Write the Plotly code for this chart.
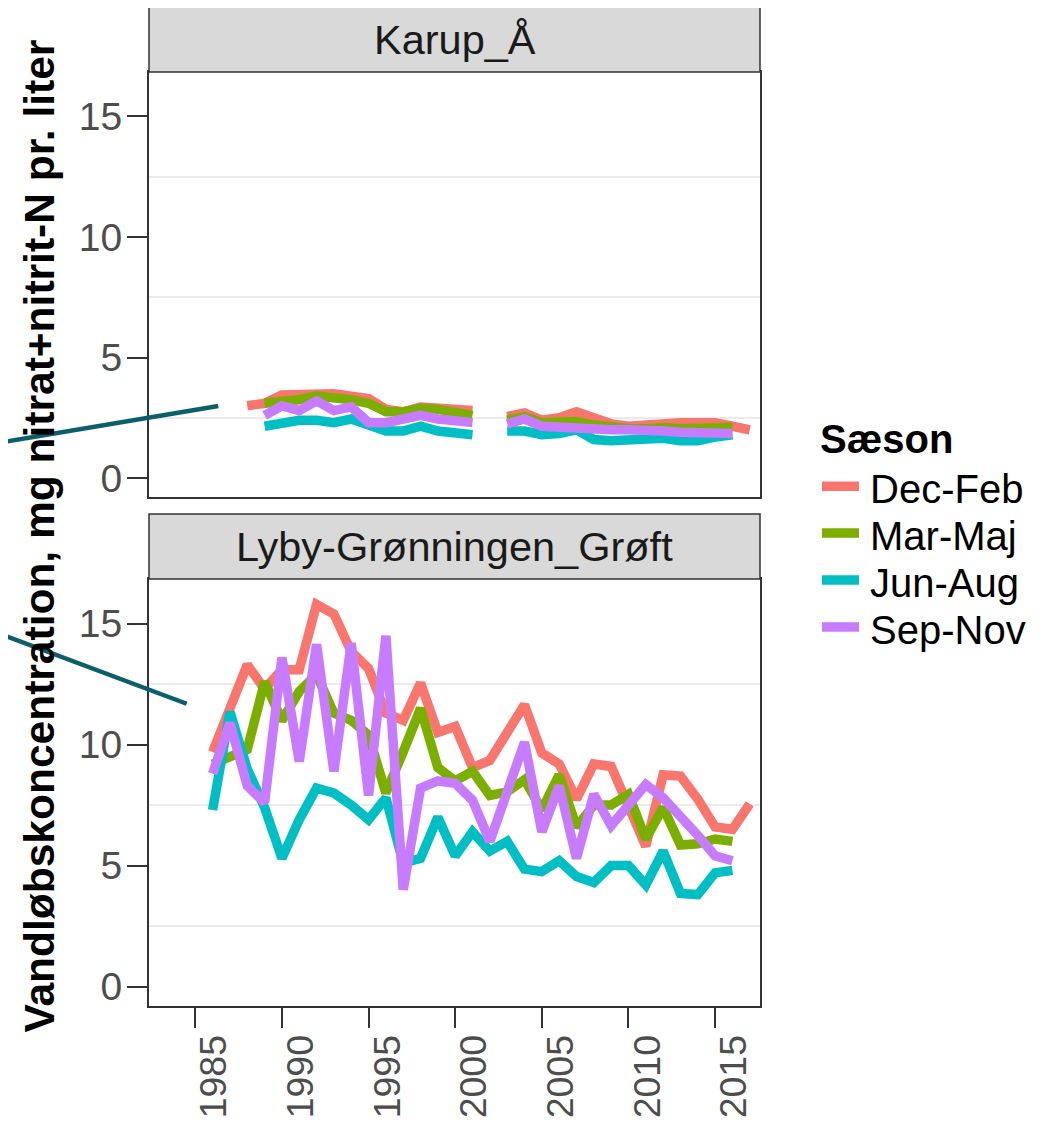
import plotly.graph_objects as go

# ---------------- data ----------------
YEARS = list(range(1986, 2018))  # 1986 .. 2017

SEASONS = ["Dec-Feb", "Mar-Maj", "Jun-Aug", "Sep-Nov"]
SEASON_COLORS = ["#F8766D", "#7CAE00", "#00BFC4", "#C77CFF"]

PANELS = ["Karup_Å", "Lyby-Grønningen_Grøft"]

N = None
# Karup_Å
karup_dec_feb = [N, N, 3.0, 3.1, 3.45, 3.45, 3.5, 3.5, 3.4, 3.3, 2.85, 2.75, 2.95, 2.9, 2.85, 2.8,
                 N, 2.55, 2.7, 2.4, 2.5, 2.75, 2.5, 2.25, 2.15, 2.2, 2.3, 2.3, 2.3, 2.3, 2.15, 2.0]
karup_mar_maj = [N, N, N, 3.1, 3.15, 3.25, 3.4, 3.35, 3.25, 3.1, 2.75, 2.75, 2.9, 2.85, 2.7, 2.6,
                 N, 2.4, 2.55, 2.3, 2.3, 2.35, 2.2, 2.1, 2.05, 2.05, 2.1, 2.05, 2.05, 2.05, 2.1, N]
karup_jun_aug = [N, N, N, 2.15, 2.3, 2.4, 2.4, 2.3, 2.45, 2.25, 1.95, 1.95, 2.15, 1.95, 1.85, 1.8,
                 N, 1.95, 1.95, 1.8, 1.85, 2.0, 1.6, 1.55, 1.6, 1.6, 1.65, 1.55, 1.55, 1.7, 1.8, N]
karup_sep_nov = [N, N, N, 2.6, 3.0, 2.8, 3.2, 2.8, 2.95, 2.3, 2.3, 2.45, 2.6, 2.45, 2.4, 2.3,
                 N, 2.25, 2.45, 2.15, 2.1, 2.1, 2.0, 2.0, 2.0, 2.0, 1.95, 1.9, 1.9, 1.9, 1.85, N]

# Lyby-Grønningen_Grøft
lyby_dec_feb = [9.7, 11.6, 13.3, 12.3, 13.1, 13.1, 15.8, 15.4, 13.85, 13.15, 11.3, 11.0, 12.55, 10.5,
                10.75, 9.05, 9.35, 10.5, 11.65, 9.65, 9.2, 7.75, 9.2, 9.1, 7.4, 5.8, 8.75, 8.7, 7.75,
                6.6, 6.5, 7.55]
lyby_mar_maj = [9.2, 9.5, 9.8, 12.6, 11.0, 12.2, 12.9, 11.3, 11.0, 10.4, 8.0, 9.7, 11.5, 9.05, 8.5,
                8.9, 7.9, 8.05, 8.55, 7.3, 8.75, 6.6, 7.5, 7.5, 7.95, 6.1, 7.4, 5.85, 5.9, 6.1, 6.0, N]
lyby_jun_aug = [7.3, 11.35, 9.0, 7.4, 5.3, 6.9, 8.2, 8.0, 7.5, 6.9, 7.8, 5.1, 5.3, 7.0, 5.4, 6.4,
                5.6, 6.0, 4.85, 4.75, 5.2, 4.55, 4.3, 5.0, 5.0, 4.2, 5.6, 3.85, 3.8, 4.7, 4.8, N]
lyby_sep_nov = [8.8, 10.9, 8.3, 7.6, 13.6, 9.3, 14.15, 8.9, 14.2, 7.9, 14.5, 4.0, 8.2, 8.5, 8.4, 7.7,
                6.0, 8.1, 10.1, 6.4, 8.3, 5.3, 7.95, 6.65, 7.5, 8.35, 7.8, 7.05, 6.25, 5.4, 5.2, N]

PANEL_DATA = [
    [karup_dec_feb, karup_mar_maj, karup_jun_aug, karup_sep_nov],
    [lyby_dec_feb, lyby_mar_maj, lyby_jun_aug, lyby_sep_nov],
]

X_TICKS = [1985, 1990, 1995, 2000, 2005, 2010, 2015]
Y_TICKS = [0, 5, 10, 15]
Y_MINOR = [2.5, 7.5, 12.5]

Y_TITLE = "Vandløbskoncentration, mg nitrat+nitrit-N pr. liter"
LEGEND_TITLE = "Sæson"

# ---------------- layout geometry (pixels, as seen in the page) ----------------
W, H = 1056, 1131
OFF = 8                       # default page body margin
PX_L, PX_R = 149, 760
PANEL_PX = [(72, 498.3), (580, 1007.7)]      # (top, bottom) in px
STRIP_PX = [(7, 72), (515, 580)]
X_RANGE = [1982.33, 2017.59]
Y_RANGE = [-0.803, 16.85]

FONT = "Liberation Sans, Arial, sans-serif"
DARK = "#333333"


def fx(px):
    return (px - OFF) / W


def fy(py):
    return 1 - (py - OFF) / H


fig = go.Figure()

for p, series in enumerate(PANEL_DATA):
    suffix = "" if p == 0 else str(p + 1)
    for s, vals in enumerate(series):
        fig.add_trace(go.Scatter(
            x=YEARS, y=vals, mode="lines", name=SEASONS[s],
            line=dict(color=SEASON_COLORS[s], width=9.5),
            connectgaps=False, showlegend=False,
            xaxis="x" + suffix, yaxis="y" + suffix,
        ))

axis_common = dict(
    showline=True, mirror=True, linecolor=DARK, linewidth=2,
    zeroline=False, showgrid=False,
)

layout = dict(
    width=W, height=H,
    margin=dict(l=0, r=0, t=0, b=0),
    paper_bgcolor="white", plot_bgcolor="white",
    font=dict(family=FONT),
    showlegend=False,
)

for p in range(2):
    suffix = "" if p == 0 else str(p + 1)
    top, bot = PANEL_PX[p]
    xa = dict(axis_common, domain=[fx(PX_L), fx(PX_R)], range=X_RANGE,
              anchor="y" + suffix)
    if p == 1:
        xa.update(tickmode="array", tickvals=X_TICKS, ticktext=[str(t) for t in X_TICKS],
                  ticks="outside", ticklen=20, tickwidth=2, tickcolor=DARK,
                  tickangle=-90, ticklabelshift=19, ticklabelstandoff=-8,
                  tickfont=dict(size=37.5, color="#4D4D4D", family=FONT))
    else:
        xa.update(showticklabels=False, ticks="")
    ya = dict(axis_common, domain=[fy(bot), fy(top)], range=Y_RANGE,
              anchor="x" + suffix,
              tickmode="array", tickvals=Y_TICKS, ticktext=[str(t) for t in Y_TICKS],
              ticks="outside", ticklen=20, tickwidth=2, tickcolor=DARK,
              ticklabelstandoff=-3,
              tickfont=dict(size=39, color="#4D4D4D", family=FONT),
              minor=dict(tickmode="array", tickvals=Y_MINOR, showgrid=True,
                         gridcolor="#EBEBEB", gridwidth=2, ticks=""))
    layout["xaxis" + suffix] = xa
    layout["yaxis" + suffix] = ya

shapes = []
annotations = []

# facet strips
for p, (st, sb) in enumerate(STRIP_PX):
    shapes.append(dict(type="rect", xref="paper", yref="paper",
                       x0=fx(PX_L), x1=fx(PX_R), y0=fy(sb), y1=fy(st),
                       fillcolor="#D9D9D9", line=dict(color=DARK, width=1.5), layer="above"))
    annotations.append(dict(text=PANELS[p], xref="paper", yref="paper",
                            x=fx((PX_L + PX_R) / 2), y=fy((st + sb) / 2),
                            xanchor="center", yanchor="middle", showarrow=False,
                            font=dict(size=41.5, color="#1A1A1A", family=FONT)))

# y axis title
annotations.append(dict(text="<b>" + Y_TITLE + "</b>", xref="paper", yref="paper",
                        x=fx(40), y=fy(537.5), xanchor="center", yanchor="middle",
                        textangle=-90, showarrow=False,
                        font=dict(size=42.5, color="black", family=FONT)))

# legend (drawn manually for exact spacing)
annotations.append(dict(text="<b>" + LEGEND_TITLE + "</b>", xref="paper", yref="paper",
                        x=fx(818), y=fy(440), xanchor="left", yanchor="middle",
                        showarrow=False, font=dict(size=40, color="black", family=FONT)))
LEG_Y = [487, 534, 581, 628]
for s, name in enumerate(SEASONS):
    shapes.append(dict(type="line", xref="paper", yref="paper",
                       x0=fx(822), x1=fx(859), y0=fy(LEG_Y[s]), y1=fy(LEG_Y[s]),
                       line=dict(color=SEASON_COLORS[s], width=9.5)))
    annotations.append(dict(text=name, xref="paper", yref="paper",
                            x=fx(868), y=fy(LEG_Y[s] + 3), xanchor="left", yanchor="middle",
                            showarrow=False, font=dict(size=40, color="black", family=FONT)))

# pointer lines
POINTERS = [((0, 443.3), (218.3, 406.7)), ((0, 635), (186.7, 705))]
for (x0, y0), (x1, y1) in POINTERS:
    shapes.append(dict(type="line", xref="paper", yref="paper",
                       x0=fx(x0 - 10), y0=fy(y0 + (y1 - y0) * (-10) / (x1 - x0)),
                       x1=fx(x1), y1=fy(y1),
                       line=dict(color="#0B5F6D", width=4.5), layer="above"))

layout["shapes"] = shapes
layout["annotations"] = annotations
fig.update_layout(**layout)

fig.write_html("out.html")
